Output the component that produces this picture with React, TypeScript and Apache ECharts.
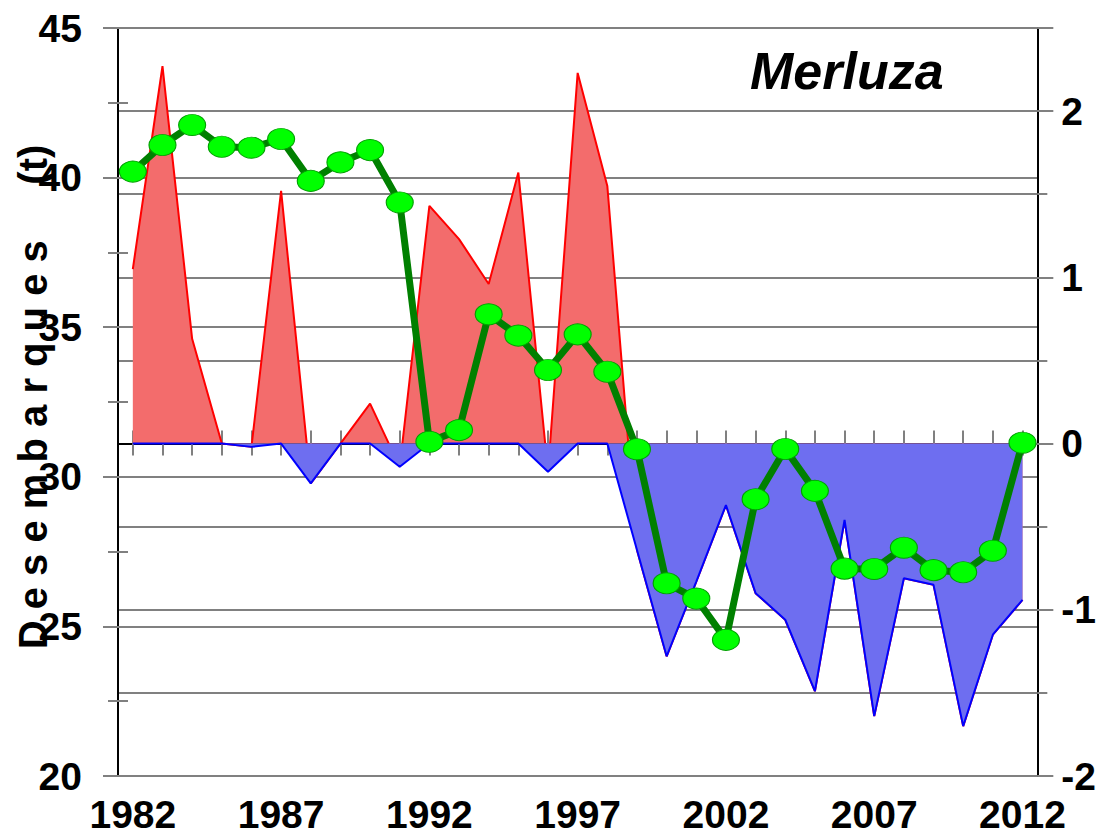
import React, { useEffect, useRef } from "react";
import * as echarts from "echarts";

const years = [
  "1982", "1983", "1984", "1985", "1986", "1987", "1988", "1989", "1990", "1991",
  "1992", "1993", "1994", "1995", "1996", "1997", "1998", "1999", "2000", "2001",
  "2002", "2003", "2004", "2005", "2006", "2007", "2008", "2009", "2010", "2011", "2012",
];

// Desembarques (t) - left axis
const landings = [
  40.2, 41.09, 41.76, 41.03, 41.0, 41.29, 39.89, 40.51, 40.92, 39.17,
  31.17, 31.56, 35.43, 34.72, 33.57, 34.76, 33.51, 30.92, 26.44, 25.93,
  24.55, 29.25, 30.93, 29.53, 26.93, 26.92, 27.63, 26.88, 26.81, 27.53, 31.14,
];

// Anomaly index - right axis
const anomaly = [
  1.05, 2.27, 0.63, 0.0, -0.02, 1.52, -0.24, 0.0, 0.24, -0.14,
  1.43, 1.23, 0.96, 1.63, -0.17, 2.23, 1.55, -0.64, -1.28, -0.83,
  -0.37, -0.9, -1.06, -1.49, -0.46, -1.64, -0.81, -0.85, -1.7, -1.15, -0.94,
];

const leftTicks = { min: 20, max: 45, interval: 5 };
const rightTicks = { min: -2, max: 2.5, interval: 0.5 };

const FONT = "'Liberation Sans', Arial, sans-serif";
const GRAY = "#808080";

export default function App() {
  const ref = useRef<HTMLDivElement>(null);

  useEffect(() => {
    if (!ref.current) return;
    const chart = echarts.init(ref.current, undefined, { renderer: "svg" });

    const negative = anomaly.map((v) => Math.min(v, 0));

    const tickOnlyY = (
      position: string,
      min: number,
      max: number,
      interval: number,
      inside: boolean,
      length: number
    ) => ({
      type: "value",
      position,
      min,
      max,
      interval,
      axisLine: { show: false },
      axisLabel: { show: false },
      splitLine: { show: false },
      axisTick: { show: true, inside, length, lineStyle: { color: GRAY, width: 2 } },
    });

    chart.setOption({
      animation: false,
      backgroundColor: "#ffffff",
      grid: { left: 118, right: 60, top: 28, bottom: 63, containLabel: false },
      xAxis: [
        {
          type: "category",
          data: years,
          position: "bottom",
          boundaryGap: true,
          axisLine: { show: true, lineStyle: { color: "#000", width: 2 } },
          axisTick: {
            show: true,
            alignWithLabel: true,
            interval: 0,
            length: 12,
            lineStyle: { color: GRAY, width: 2 },
          },
          axisLabel: {
            interval: 4,
            fontSize: 39,
            fontWeight: "bold",
            fontFamily: FONT,
            color: "#000",
            margin: 19,
          },
          splitLine: { show: false },
        },
        {
          type: "category",
          data: years,
          position: "bottom",
          boundaryGap: true,
          axisLine: { show: false },
          axisTick: {
            show: true,
            inside: true,
            alignWithLabel: true,
            interval: 0,
            length: 13,
            lineStyle: { color: GRAY, width: 2 },
          },
          axisLabel: { show: false },
          splitLine: { show: false },
        },
      ],
      yAxis: [
        {
          type: "value",
          position: "left",
          min: leftTicks.min,
          max: leftTicks.max,
          interval: leftTicks.interval,
          axisLine: { show: true, lineStyle: { color: "#000", width: 2 } },
          axisTick: { show: true, length: 15, lineStyle: { color: GRAY, width: 2 } },
          axisLabel: {
            fontSize: 39,
            fontWeight: "bold",
            fontFamily: FONT,
            color: "#000",
            margin: 36,
          },
          splitLine: { show: true, lineStyle: { color: GRAY, width: 2 } },
        },
        {
          type: "value",
          position: "right",
          min: rightTicks.min,
          max: rightTicks.max,
          interval: rightTicks.interval,
          axisLine: { show: true, lineStyle: { color: "#000", width: 2 } },
          axisTick: { show: false },
          axisLabel: {
            fontSize: 39,
            fontWeight: "bold",
            fontFamily: FONT,
            color: "#000",
            margin: 24,
            formatter: (v: number) =>
              Math.abs(v - Math.round(v)) < 1e-9 && v <= 2 ? String(Math.round(v)) : "",
          },
          splitLine: { show: true, lineStyle: { color: GRAY, width: 2 } },
        },
        tickOnlyY("left", leftTicks.min, leftTicks.max, 2.5, true, 10),
        tickOnlyY("left", leftTicks.min, leftTicks.max, 2.5, false, 10),
        tickOnlyY("right", rightTicks.min, rightTicks.max, 0.5, true, 10),
        tickOnlyY("right", rightTicks.min, rightTicks.max, 0.5, false, 10),
        tickOnlyY("right", rightTicks.min, rightTicks.max, 1, false, 16),
      ],
      series: [
        {
          name: "Anomalía +",
          type: "line",
          xAxisIndex: 0,
          yAxisIndex: 1,
          data: anomaly,
          symbol: "none",
          lineStyle: { color: "#ff0000", width: 2 },
          areaStyle: { color: "#f36c6c", opacity: 1 },
          z: 2,
        },
        {
          name: "Anomalía -",
          type: "line",
          xAxisIndex: 0,
          yAxisIndex: 1,
          data: negative,
          symbol: "none",
          lineStyle: { color: "#0000ff", width: 2 },
          areaStyle: { color: "#6e6ef0", opacity: 1 },
          z: 3,
        },
        {
          name: "Desembarques",
          type: "line",
          xAxisIndex: 0,
          yAxisIndex: 0,
          data: landings,
          symbol: "circle",
          showSymbol: true,
          showAllSymbol: true,
          symbolSize: [27, 21],
          lineStyle: { color: "#008000", width: 7 },
          itemStyle: { color: "#00ff00", borderColor: "#00a000", borderWidth: 1 },
          z: 5,
        },
      ],
      graphic: [
        {
          type: "text",
          left: 750,
          top: 45,
          style: {
            text: "Merluza",
            fontSize: 52,
            fontWeight: "bold",
            fontStyle: "italic",
            fontFamily: FONT,
            fill: "#000",
          },
          z: 10,
        },
        {
          type: "text",
          x: 33,
          y: 397,
          rotation: Math.PI / 2,
          style: {
            text: "D e s e m b a r q u e s     (t)",
            fontSize: 40,
            fontWeight: "bold",
            fontFamily: FONT,
            fill: "#000",
            align: "center",
            verticalAlign: "middle",
          },
          z: 10,
        },
      ],
    });

    return () => chart.dispose();
  }, []);

  return (
    <div
      ref={ref}
      style={{ position: "fixed", left: 0, top: 0, width: 1099, height: 839 }}
    />
  );
}
